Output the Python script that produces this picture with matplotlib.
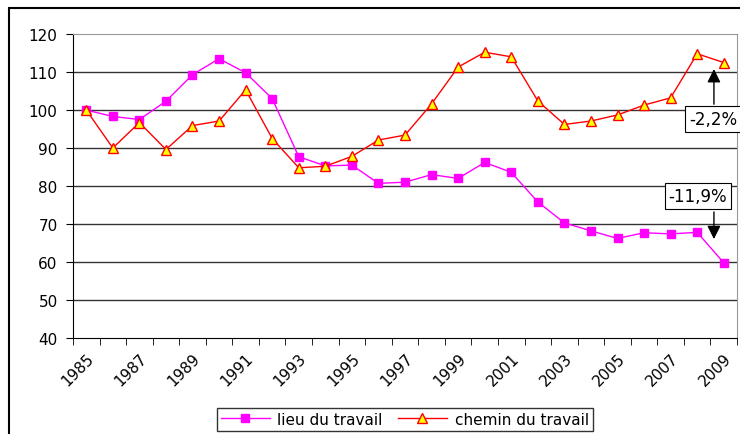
import matplotlib.pyplot as plt
from matplotlib.patches import Rectangle
from matplotlib.transforms import ScaledTranslation

plt.rcParams['font.family'] = ['DejaVu Sans']

# values (index 1985 = 100)
years = list(range(1985, 2010))
lieu = [100, 98.3, 97.5, 102.3, 109.3, 113.5, 109.8, 103, 87.7, 85.3,
        85.5, 80.7, 81, 83, 82, 86.2, 83.6, 75.8, 70.3, 68.2,
        66.2, 67.7, 67.4, 67.8, 59.8]
chemin = [100, 90, 96.7, 89.6, 95.9, 97.1, 105.3, 92.5, 84.8, 85.2,
          87.8, 92.1, 93.4, 101.6, 111.3, 115.2, 114, 102.4, 96.2, 97.1,
          98.7, 101.3, 103.2, 114.8, 112.5]
labels = ['lieu du travail', 'chemin du travail']
notes = ['-2,2%', '-11,9%']

fig = plt.figure(figsize=(7.4, 4.35), dpi=100)
ax = fig.add_axes([0.0986, 0.2207, 0.8974, 0.6988])

# outer chart frame
fig.patches.append(Rectangle((0.012, -0.05), 1.1, 1.03, transform=fig.transFigure,
                             fill=False, edgecolor='black', linewidth=1.5))

x = list(range(len(years)))
ax.plot(x, lieu, color='#FF00FF', linewidth=1, marker='s', markersize=6,
        markerfacecolor='#FF00FF', markeredgecolor='#FF00FF', label=labels[0])
ax.plot(x, chemin, color='#FF0000', linewidth=1, marker='^', markersize=7,
        markerfacecolor='#FFFF00', markeredgecolor='#FF0000', label=labels[1])

ax.set_xlim(-0.5, len(years) - 0.5)
ax.set_ylim(40, 120)
ax.set_yticks(range(40, 121, 10))
for v in range(50, 120, 10):
    ax.axhline(v, color='#333333', linewidth=1, zorder=0)

ax.set_xticks(x[::2])
ax.set_xticklabels([str(y) for y in years[::2]], rotation=45, ha='right',
                   rotation_mode='anchor', fontsize=11)
shift = ScaledTranslation(-6 / 100, 0, fig.dpi_scale_trans)
for lab in ax.get_xticklabels():
    lab.set_transform(lab.get_transform() + shift)
ax.set_xticks([i - 0.5 for i in range(len(years) + 1)], minor=True)
ax.tick_params(axis='x', which='major', length=0, pad=9)
ax.tick_params(axis='x', which='minor', length=5, direction='out')
ax.tick_params(axis='y', length=5, direction='out', labelsize=11, pad=6)

for side in ['top', 'right']:
    ax.spines[side].set_color('#999999')
for side in ['left', 'bottom']:
    ax.spines[side].set_color('black')

# annotations
ax.annotate('', xy=(23.63, 111.5), xytext=(23.63, 100.8),
            arrowprops=dict(arrowstyle='-|>', color='black', lw=1, mutation_scale=20))
ax.text(23.62, 97.6, notes[0], ha='center', va='center', fontsize=12,
        bbox=dict(boxstyle='square,pad=0.25', facecolor='white', edgecolor='black', lw=0.8),
        clip_on=False)
ax.annotate('', xy=(23.63, 65.3), xytext=(23.63, 73.9),
            arrowprops=dict(arrowstyle='-|>', color='black', lw=1, mutation_scale=20))
ax.text(23.03, 77.4, notes[1], ha='center', va='center', fontsize=12,
        bbox=dict(boxstyle='square,pad=0.25', facecolor='white', edgecolor='black', lw=0.8))

fig.legend(loc='center', bbox_to_anchor=(0.547, 0.034), ncol=2, fontsize=11,
           frameon=True, fancybox=False, edgecolor='black', handlelength=3.2,
           columnspacing=1.0, handletextpad=0.5, borderpad=0.25)

fig.savefig('out.png', dpi=100)
